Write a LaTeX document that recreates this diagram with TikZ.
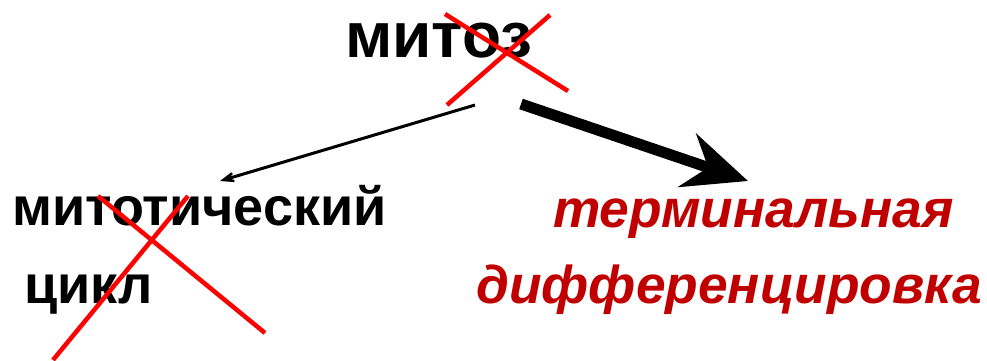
\documentclass[tikz,border=0pt]{standalone}
\usepackage{fontspec}
\setmainfont{Liberation Sans}
\usetikzlibrary{arrows.meta}
\definecolor{termred}{HTML}{C00000}
\tikzset{
  blk/.style={font=\fontsize{54}{60}\selectfont\bfseries, inner sep=0pt, anchor=base west},
  blkbig/.style={font=\fontsize{64}{70}\selectfont\bfseries, inner sep=0pt, anchor=base west},
  redtxt/.style={font=\fontsize{53.3}{60}\selectfont\bfseries\itshape, text=termred, inner sep=0pt, anchor=base west},
  cross/.style={draw=red, line width=4.5pt},
  thinarrow/.style={draw=black, line width=3pt, -{Stealth[length=26pt,width=20pt,inset=17pt]}},
  thickarrow/.style={draw=black, line width=11pt, -{Stealth[length=64pt,width=56pt,inset=22pt]}}
}
\begin{document}
\begin{tikzpicture}[x=1pt,y=-1pt]
\useasboundingbox (0,0) rectangle (987,361);
\node[blkbig] (mitoz) at (345,57) {митоз};
\node[blk] (mcyc1) at (12,225) {митотический};
\node[blk] (mcyc2) at (24,303) {цикл};
\node[redtxt] (term1) at (553,227) {терминальная};
\node[redtxt] (term2) at (476,303) {дифференцировка};
% crosses
\coordinate (c1a) at (445,14);
\coordinate (c1b) at (568,91);
\coordinate (c1c) at (550,15);
\coordinate (c1d) at (447,105);
\draw[cross] (c1a) -- (c1b);
\draw[cross] (c1c) -- (c1d);
\coordinate (c2a) at (98,196);
\coordinate (c2b) at (265,333);
\coordinate (c2c) at (188,196);
\coordinate (c2d) at (53,360);
\draw[cross] (c2a) -- (c2b);
\draw[cross] (c2c) -- (c2d);
% arrows
\coordinate (s1) at (475,105);
\coordinate (e1) at (220,181);
\coordinate (s2) at (521,104);
\coordinate (e2) at (748,181);
\draw[thinarrow] (s1) -- (e1);
\draw[thickarrow] (s2) -- (e2);
\end{tikzpicture}
\end{document}
